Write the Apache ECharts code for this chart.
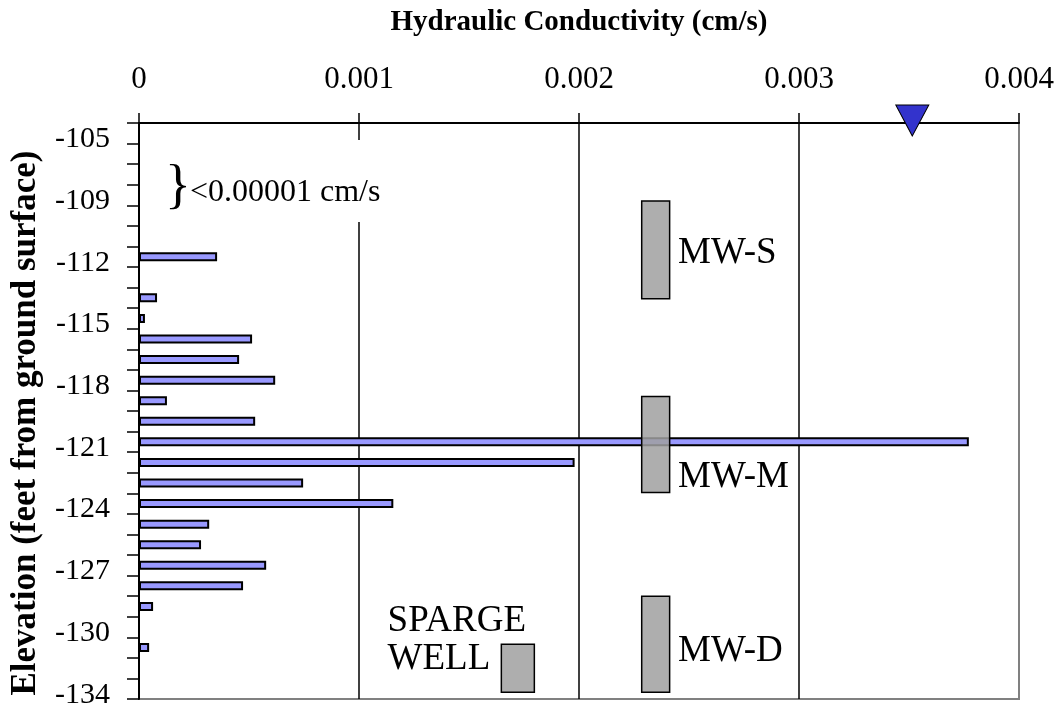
<!DOCTYPE html>
<html>
<head>
<meta charset="utf-8">
<script src="https://cdn.jsdelivr.net/npm/echarts@6/dist/echarts.min.js"></script>
<style>
  html, body { margin: 0; padding: 0; background: #fff; }
  #chart { width: 1064px; height: 708px; }
</style>
</head>
<body>
<div id="chart"></div>
<script>
// elevation rows, top to bottom (only every third row is labelled)
var elevations = ['-105', '', '', '-109', '', '', '-112', '', '', '-115', '', '', '-118', '', '',
                  '-121', '', '', '-124', '', '', '-127', '', '', '-130', '', '', '-134'];
// hydraulic conductivity (cm/s) per row, null = no measurement / below detection
var conductivity = [null, null, null, null, null, null, 0.000355, null, 0.000082, 0.000027,
                    0.000514, 0.000455, 0.000619, 0.000127, 0.000528, 0.003772, 0.00198, 0.000746,
                    0.001156, 0.000319, 0.000282, 0.000578, 0.000473, 0.000064, null, 0.000046, null, null];

// well screens (x in cm/s for placement, y in row units)
var wellNames = ['MW-S', 'MW-M', 'MW-D', 'SPARGE\nWELL'];
var screenLeft = [0.002285, 0.002285, 0.002285, 0.001647];
var screenRight = [0.002412, 0.002412, 0.002412, 0.001797];
var screenTop = [3.79, 13.3, 23.0, 25.34];
var screenBottom = [8.54, 17.96, 27.67, 27.67];
var labelX = [0.00245, 0.00245, 0.00245, 0.00113];
var labelRow = [6.31, 17.2, 25.7, 25.15];

// water table marker
var waterTable = [[0.003515, -0.12]];
// "< detection" note
var noteX = 0.000127;
var noteRow = 3.4;

var FONT = "'Liberation Serif', 'Times New Roman', serif";

var chart = echarts.init(document.getElementById('chart'));

var screenData = [];
for (var i = 0; i < wellNames.length; ++i) {
    screenData.push([screenLeft[i], screenRight[i], screenTop[i], screenBottom[i]]);
}
var labelData = [];
for (var j = 0; j < wellNames.length; ++j) {
    labelData.push([labelX[j], labelRow[j]]);
}

var option = {
    animation: false,
    backgroundColor: '#fff',
    grid: {
        left: 139, right: 45, top: 123, bottom: 9,
        outerBoundsMode: 'none',
        containLabel: false,
        show: true, borderColor: '#808080', borderWidth: 2, backgroundColor: '#fff'
    },
    xAxis: {
        type: 'value',
        position: 'top',
        min: 0, max: 0.004, interval: 0.001,
        name: 'Hydraulic Conductivity (cm/s)',
        nameLocation: 'middle',
        nameGap: 86,
        nameTextStyle: { fontFamily: FONT, fontSize: 29, fontWeight: 'bold', color: '#000' },
        axisLine: { show: true, lineStyle: { color: '#000', width: 2 } },
        axisTick: { show: true, length: 10, lineStyle: { color: '#000', width: 1.5 } },
        axisLabel: {
            margin: 28, fontFamily: FONT, fontSize: 31, color: '#000',
            formatter: function (v) { return v === 0 ? '0' : v.toFixed(3); }
        },
        splitLine: { show: true, showMinLine: false, showMaxLine: false, lineStyle: { color: '#000', width: 1.5 } }
    },
    yAxis: [
        {
            type: 'category',
            inverse: true,
            data: elevations,
            name: 'Elevation (feet from ground surface)',
            nameLocation: 'middle',
            nameGap: 96,
            nameTextStyle: { fontFamily: FONT, fontSize: 35, fontWeight: 'bold', color: '#000', padding: [0, 24, 0, 0] },
            axisLine: { show: true, lineStyle: { color: '#000', width: 2 } },
            axisTick: { show: true, length: 12, interval: 0, lineStyle: { color: '#000', width: 1.5 } },
            axisLabel: { interval: 0, margin: 29, verticalAlign: 'top', lineHeight: 12, fontFamily: FONT, fontSize: 30, color: '#000' },
            splitLine: { show: false }
        },
        {
            type: 'value',
            inverse: true,
            min: 0, max: elevations.length,
            show: false
        }
    ],
    series: [
        {
            name: 'Hydraulic Conductivity',
            type: 'bar',
            xAxisIndex: 0,
            yAxisIndex: 0,
            data: conductivity,
            barWidth: 9,
            itemStyle: { color: '#9999FF', borderColor: '#000', borderWidth: 2 },
            z: 2
        },
        {
            name: 'note',
            type: 'custom',
            xAxisIndex: 0,
            yAxisIndex: 1,
            data: [[noteX, noteRow]],
            clip: false,
            z: 3,
            renderItem: function (params, api) {
                var p = api.coord([api.value(0), api.value(1)]);
                return {
                    type: 'group',
                    children: [
                        { type: 'rect', shape: { x: p[0] - 6, y: p[1] - 53, width: 222, height: 82 },
                          style: { fill: '#fff' } },
                        { type: 'text', x: p[0] - 2, y: p[1] - 5,
                          style: { text: '}', font: '54px ' + FONT, fill: '#000', align: 'left', verticalAlign: 'middle' } },
                        { type: 'text', x: p[0] + 23, y: p[1],
                          style: { text: '<0.00001 cm/s', font: '32px ' + FONT, fill: '#000', align: 'left', verticalAlign: 'middle' } }
                    ]
                };
            }
        },
        {
            name: 'screens',
            type: 'custom',
            xAxisIndex: 0,
            yAxisIndex: 1,
            data: screenData,
            encode: { x: [0, 1], y: [2, 3] },
            z: 4,
            renderItem: function (params, api) {
                var a = api.coord([api.value(0), api.value(2)]);
                var b = api.coord([api.value(1), api.value(3)]);
                return {
                    type: 'rect',
                    shape: { x: a[0], y: a[1], width: b[0] - a[0], height: b[1] - a[1] },
                    style: { fill: 'rgba(160,160,160,0.85)', stroke: '#000', lineWidth: 1.5 }
                };
            }
        },
        {
            name: 'well labels',
            type: 'custom',
            xAxisIndex: 0,
            yAxisIndex: 1,
            data: labelData,
            z: 5,
            renderItem: function (params, api) {
                var p = api.coord([api.value(0), api.value(1)]);
                return {
                    type: 'text', x: p[0], y: p[1],
                    style: {
                        text: wellNames[params.dataIndex], font: '37px ' + FONT, fill: '#000',
                        align: 'left', verticalAlign: 'middle', lineHeight: 38
                    }
                };
            }
        },
        {
            name: 'water table',
            type: 'scatter',
            xAxisIndex: 0,
            yAxisIndex: 1,
            data: waterTable,
            clip: false,
            symbol: 'triangle',
            symbolRotate: 180,
            symbolSize: [33, 31],
            itemStyle: { color: '#3333CC', borderColor: '#000', borderWidth: 1, opacity: 1 },
            emphasis: { disabled: true },
            z: 6
        }
    ]
};

chart.setOption(option);
</script>
</body>
</html>
